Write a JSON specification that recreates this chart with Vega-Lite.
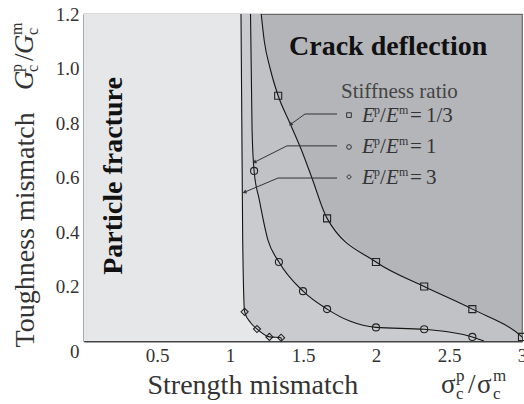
{
  "$schema": "https://vega.github.io/schema/vega-lite/v6.json",
  "width": 438,
  "height": 327,
  "autosize": {"type": "none"},
  "padding": {"left": 84, "top": 14, "right": 2, "bottom": 63},
  "background": "white",
  "config": {
    "font": "Liberation Serif",
    "view": {"stroke": "#6b6b6b", "strokeWidth": 1.2, "fill": "#b4b5b9"}
  },
  "datasets": {
    "curves": [
      {"s": "1/3", "x": 1.21, "y": 1.22, "m": 0},
      {"s": "1/3", "x": 1.235, "y": 1.1, "m": 0},
      {"s": "1/3", "x": 1.275, "y": 1.0, "m": 0},
      {"s": "1/3", "x": 1.33, "y": 0.9, "m": 1},
      {"s": "1/3", "x": 1.41, "y": 0.8, "m": 0},
      {"s": "1/3", "x": 1.49, "y": 0.7, "m": 0},
      {"s": "1/3", "x": 1.56, "y": 0.6, "m": 0},
      {"s": "1/3", "x": 1.665, "y": 0.45, "m": 1},
      {"s": "1/3", "x": 2.0, "y": 0.29, "m": 1},
      {"s": "1/3", "x": 2.33, "y": 0.2, "m": 1},
      {"s": "1/3", "x": 2.66, "y": 0.117, "m": 1},
      {"s": "1/3", "x": 3.0, "y": 0.015, "m": 1},
      {"s": "1/3", "x": 3.03, "y": 0.0, "m": 0},
      {"s": "1", "x": 1.14, "y": 1.22, "m": 0},
      {"s": "1", "x": 1.151, "y": 0.78, "m": 0},
      {"s": "1", "x": 1.165, "y": 0.624, "m": 1},
      {"s": "1", "x": 1.2, "y": 0.52, "m": 0},
      {"s": "1", "x": 1.26, "y": 0.37, "m": 0},
      {"s": "1", "x": 1.335, "y": 0.29, "m": 1},
      {"s": "1", "x": 1.5, "y": 0.183, "m": 1},
      {"s": "1", "x": 1.665, "y": 0.117, "m": 1},
      {"s": "1", "x": 1.82, "y": 0.073, "m": 0},
      {"s": "1", "x": 2.0, "y": 0.05, "m": 1},
      {"s": "1", "x": 2.33, "y": 0.043, "m": 1},
      {"s": "1", "x": 2.66, "y": 0.015, "m": 1},
      {"s": "1", "x": 2.74, "y": 0.0, "m": 0},
      {"s": "3", "x": 1.075, "y": 1.22, "m": 0},
      {"s": "3", "x": 1.087, "y": 0.37, "m": 0},
      {"s": "3", "x": 1.1, "y": 0.107, "m": 1},
      {"s": "3", "x": 1.14, "y": 0.068, "m": 0},
      {"s": "3", "x": 1.185, "y": 0.044, "m": 1},
      {"s": "3", "x": 1.27, "y": 0.015, "m": 1},
      {"s": "3", "x": 1.35, "y": 0.012, "m": 1},
      {"s": "3", "x": 1.352, "y": 0.0, "m": 0}
    ],
    "legend": [
      {"s": "1/3", "sy": 0.829, "ty": 0.804},
      {"s": "1", "sy": 0.712, "ty": 0.69},
      {"s": "3", "sy": 0.602, "ty": 0.576}
    ],
    "leaders": [
      {"id": 1, "k": 0, "x": 1.733, "y": 0.833},
      {"id": 1, "k": 1, "x": 1.514, "y": 0.833},
      {"id": 1, "k": 2, "x": 1.418, "y": 0.796, "dir": 234},
      {"id": 2, "k": 0, "x": 1.733, "y": 0.716},
      {"id": 2, "k": 1, "x": 1.39, "y": 0.716},
      {"id": 2, "k": 2, "x": 1.171, "y": 0.657, "dir": 243},
      {"id": 3, "k": 0, "x": 1.733, "y": 0.598},
      {"id": 3, "k": 1, "x": 1.329, "y": 0.598},
      {"id": 3, "k": 2, "x": 1.103, "y": 0.547, "dir": 247}
    ]
  },
  "layer": [
    {
      "data": {"name": "curves"},
      "transform": [{"filter": "datum.s == '1/3'"}],
      "mark": {"type": "area", "orient": "horizontal", "interpolate": "monotone", "color": "#c1c2c5", "clip": true},
      "encoding": {
        "x": {
          "field": "x", "type": "quantitative", "stack": null,
          "scale": {"domain": [0, 3], "nice": false, "zero": false},
          "axis": {
            "values": [0.5, 1, 1.5, 2, 2.5, 3], "format": "~g", "grid": false,
            "tickSize": -5, "tickColor": "#444", "tickWidth": 1.2,
            "domainColor": "#444", "domainWidth": 2,
            "labelFont": "Liberation Serif", "labelFontSize": 19, "labelColor": "#333",
            "labelPadding": 10, "labelFlush": false, "labelOverlap": false,
            "title": "Strength mismatch", "titleFont": "Liberation Serif", "titleFontSize": 28,
            "titleFontWeight": "normal", "titleColor": "#333",
            "titleX": 63, "titleY": 52, "titleAlign": "left", "titleBaseline": "alphabetic", "titleAnchor": null
          }
        },
        "y": {
          "field": "y", "type": "quantitative",
          "scale": {"domain": [0, 1.2], "nice": false, "zero": false},
          "axis": {
            "values": [0, 0.2, 0.4, 0.6, 0.8, 1.0, 1.2], "grid": false, "ticks": false,
            "labelExpr": "datum.value == 0 ? '0' : format(datum.value, '.1f')",
            "domainColor": "#555", "domainWidth": 1.6,
            "labelFont": "Liberation Serif", "labelFontSize": 19, "labelColor": "#333",
            "labelPadding": 5, "labelFlush": false, "labelOverlap": false,
            "labelOffset": {"condition": {"test": "datum.value == 0", "value": 10}, "value": 0},
            "title": "Toughness mismatch", "titleFont": "Liberation Serif", "titleFontSize": 28,
            "titleFontWeight": "normal", "titleColor": "#333", "titleAngle": 270,
            "titleX": -51, "titleY": 333, "titleAlign": "left", "titleBaseline": "alphabetic", "titleAnchor": null
          }
        }
      }
    },
    {
      "data": {"name": "curves"},
      "transform": [{"filter": "datum.s == '1'"}],
      "mark": {"type": "area", "orient": "horizontal", "interpolate": "monotone", "color": "#cacbce", "clip": true},
      "encoding": {
        "x": {"field": "x", "type": "quantitative", "stack": null},
        "y": {"field": "y", "type": "quantitative"}
      }
    },
    {
      "data": {"name": "curves"},
      "transform": [{"filter": "datum.s == '3'"}],
      "mark": {"type": "area", "orient": "horizontal", "interpolate": "monotone", "color": "#e6e7e9", "clip": true},
      "encoding": {
        "x": {"field": "x", "type": "quantitative", "stack": null},
        "y": {"field": "y", "type": "quantitative"}
      }
    },
    {
      "data": {"name": "curves"},
      "mark": {"type": "line", "interpolate": "monotone", "color": "#151515", "strokeWidth": 1.1, "clip": true},
      "encoding": {
        "x": {"field": "x", "type": "quantitative"},
        "y": {"field": "y", "type": "quantitative"},
        "detail": {"field": "s"}
      }
    },
    {
      "data": {"name": "curves"},
      "transform": [{"filter": "datum.m == 1"}],
      "mark": {"type": "point", "filled": false, "stroke": "#222", "strokeWidth": 1.1, "size": 50, "opacity": 1},
      "encoding": {
        "x": {"field": "x", "type": "quantitative"},
        "y": {"field": "y", "type": "quantitative"},
        "shape": {"field": "s", "type": "nominal", "scale": {"domain": ["1/3", "1", "3"], "range": ["square", "circle", "diamond"]}, "legend": null}
      }
    },
    {
      "data": {"name": "leaders"},
      "mark": {"type": "line", "color": "#333", "strokeWidth": 1},
      "encoding": {
        "x": {"field": "x", "type": "quantitative"},
        "y": {"field": "y", "type": "quantitative"},
        "detail": {"field": "id"},
        "order": {"field": "k"}
      }
    },
    {
      "data": {"name": "leaders"},
      "transform": [{"filter": "datum.k == 2"}],
      "mark": {"type": "point", "shape": "triangle", "filled": true, "color": "#333", "size": 18, "opacity": 1},
      "encoding": {
        "x": {"field": "x", "type": "quantitative"},
        "y": {"field": "y", "type": "quantitative"},
        "angle": {"field": "dir", "type": "quantitative", "scale": null}
      }
    },
    {
      "data": {"name": "legend"},
      "mark": {"type": "point", "filled": false, "stroke": "#333", "strokeWidth": 1, "size": 22, "opacity": 1},
      "encoding": {
        "x": {"datum": 1.815},
        "y": {"field": "sy", "type": "quantitative"},
        "shape": {"field": "s", "type": "nominal"}
      }
    },
    {
      "data": {"name": "legend"},
      "mark": {"type": "text", "text": "E", "fontStyle": "italic", "fontSize": 21, "align": "left", "baseline": "alphabetic", "color": "#333"},
      "encoding": {"x": {"datum": 1.904}, "y": {"field": "ty", "type": "quantitative"}}
    },
    {
      "data": {"name": "legend"},
      "mark": {"type": "text", "text": "p", "fontSize": 12, "align": "left", "baseline": "alphabetic", "dx": 12, "dy": -8, "color": "#333"},
      "encoding": {"x": {"datum": 1.904}, "y": {"field": "ty", "type": "quantitative"}}
    },
    {
      "data": {"name": "legend"},
      "mark": {"type": "text", "text": "/", "fontSize": 21, "align": "left", "baseline": "alphabetic", "dx": 18, "color": "#333"},
      "encoding": {"x": {"datum": 1.904}, "y": {"field": "ty", "type": "quantitative"}}
    },
    {
      "data": {"name": "legend"},
      "mark": {"type": "text", "text": "E", "fontStyle": "italic", "fontSize": 21, "align": "left", "baseline": "alphabetic", "dx": 24, "color": "#333"},
      "encoding": {"x": {"datum": 1.904}, "y": {"field": "ty", "type": "quantitative"}}
    },
    {
      "data": {"name": "legend"},
      "mark": {"type": "text", "text": "m", "fontSize": 12, "align": "left", "baseline": "alphabetic", "dx": 37, "dy": -8, "color": "#333"},
      "encoding": {"x": {"datum": 1.904}, "y": {"field": "ty", "type": "quantitative"}}
    },
    {
      "data": {"name": "legend"},
      "mark": {"type": "text", "text": "=", "fontSize": 21, "align": "left", "baseline": "alphabetic", "dx": 48, "color": "#333"},
      "encoding": {"x": {"datum": 1.904}, "y": {"field": "ty", "type": "quantitative"}}
    },
    {
      "data": {"name": "legend"},
      "mark": {"type": "text", "fontSize": 21, "align": "left", "baseline": "alphabetic", "dx": 64, "color": "#333"},
      "encoding": {"x": {"datum": 1.904}, "y": {"field": "ty", "type": "quantitative"}, "text": {"field": "s"}}
    },
    {
      "data": {"values": [{}]},
      "mark": {"type": "text", "text": "Stiffness ratio", "fontSize": 21, "align": "left", "baseline": "alphabetic", "color": "#444"},
      "encoding": {"x": {"datum": 1.76}, "y": {"datum": 0.892}}
    },
    {
      "data": {"values": [{}]},
      "mark": {"type": "text", "text": "Crack deflection", "fontSize": 28, "fontWeight": "bold", "align": "left", "baseline": "alphabetic", "color": "#111"},
      "encoding": {"x": {"datum": 1.404}, "y": {"datum": 1.0495}}
    },
    {
      "data": {"values": [{}]},
      "mark": {"type": "text", "text": "Particle fracture", "fontSize": 28, "fontWeight": "bold", "angle": 270, "align": "center", "baseline": "alphabetic", "color": "#111"},
      "encoding": {"x": {"datum": 0.26}, "y": {"datum": 0.6055}}
    },
    {
      "data": {"values": [{}]},
      "mark": {"type": "text", "text": "σ", "fontSize": 27, "align": "left", "baseline": "alphabetic", "color": "#333"},
      "encoding": {"x": {"datum": 2.445}, "y": {"datum": -0.191}}
    },
    {
      "data": {"values": [{}]},
      "mark": {"type": "text", "text": "c", "fontSize": 17, "align": "left", "baseline": "alphabetic", "dx": 15, "dy": 6, "color": "#333"},
      "encoding": {"x": {"datum": 2.445}, "y": {"datum": -0.191}}
    },
    {
      "data": {"values": [{}]},
      "mark": {"type": "text", "text": "p", "fontSize": 17, "align": "left", "baseline": "alphabetic", "dx": 15, "dy": -12, "color": "#333"},
      "encoding": {"x": {"datum": 2.445}, "y": {"datum": -0.191}}
    },
    {
      "data": {"values": [{}]},
      "mark": {"type": "text", "text": "/", "fontSize": 27, "align": "left", "baseline": "alphabetic", "dx": 27, "color": "#333"},
      "encoding": {"x": {"datum": 2.445}, "y": {"datum": -0.191}}
    },
    {
      "data": {"values": [{}]},
      "mark": {"type": "text", "text": "σ", "fontSize": 27, "align": "left", "baseline": "alphabetic", "dx": 36, "color": "#333"},
      "encoding": {"x": {"datum": 2.445}, "y": {"datum": -0.191}}
    },
    {
      "data": {"values": [{}]},
      "mark": {"type": "text", "text": "c", "fontSize": 17, "align": "left", "baseline": "alphabetic", "dx": 52, "dy": 6, "color": "#333"},
      "encoding": {"x": {"datum": 2.445}, "y": {"datum": -0.191}}
    },
    {
      "data": {"values": [{}]},
      "mark": {"type": "text", "text": "m", "fontSize": 17, "align": "left", "baseline": "alphabetic", "dx": 52, "dy": -12, "color": "#333"},
      "encoding": {"x": {"datum": 2.445}, "y": {"datum": -0.191}}
    },
    {
      "data": {"values": [{}]},
      "mark": {"type": "text", "text": "G", "fontStyle": "italic", "fontSize": 27, "angle": 270, "align": "left", "baseline": "alphabetic", "color": "#333"},
      "encoding": {"x": {"datum": -0.349}, "y": {"datum": 0.921}}
    },
    {
      "data": {"values": [{}]},
      "mark": {"type": "text", "text": "c", "fontSize": 16, "angle": 270, "align": "left", "baseline": "alphabetic", "dx": 18, "dy": 5, "color": "#333"},
      "encoding": {"x": {"datum": -0.349}, "y": {"datum": 0.921}}
    },
    {
      "data": {"values": [{}]},
      "mark": {"type": "text", "text": "p", "fontSize": 16, "angle": 270, "align": "left", "baseline": "alphabetic", "dx": 18, "dy": -11, "color": "#333"},
      "encoding": {"x": {"datum": -0.349}, "y": {"datum": 0.921}}
    },
    {
      "data": {"values": [{}]},
      "mark": {"type": "text", "text": "/", "fontSize": 27, "angle": 270, "align": "left", "baseline": "alphabetic", "dx": 29, "color": "#333"},
      "encoding": {"x": {"datum": -0.349}, "y": {"datum": 0.921}}
    },
    {
      "data": {"values": [{}]},
      "mark": {"type": "text", "text": "G", "fontStyle": "italic", "fontSize": 27, "angle": 270, "align": "left", "baseline": "alphabetic", "dx": 36, "color": "#333"},
      "encoding": {"x": {"datum": -0.349}, "y": {"datum": 0.921}}
    },
    {
      "data": {"values": [{}]},
      "mark": {"type": "text", "text": "c", "fontSize": 16, "angle": 270, "align": "left", "baseline": "alphabetic", "dx": 55, "dy": 5, "color": "#333"},
      "encoding": {"x": {"datum": -0.349}, "y": {"datum": 0.921}}
    },
    {
      "data": {"values": [{}]},
      "mark": {"type": "text", "text": "m", "fontSize": 16, "angle": 270, "align": "left", "baseline": "alphabetic", "dx": 55, "dy": -11, "color": "#333"},
      "encoding": {"x": {"datum": -0.349}, "y": {"datum": 0.921}}
    }
  ]
}
